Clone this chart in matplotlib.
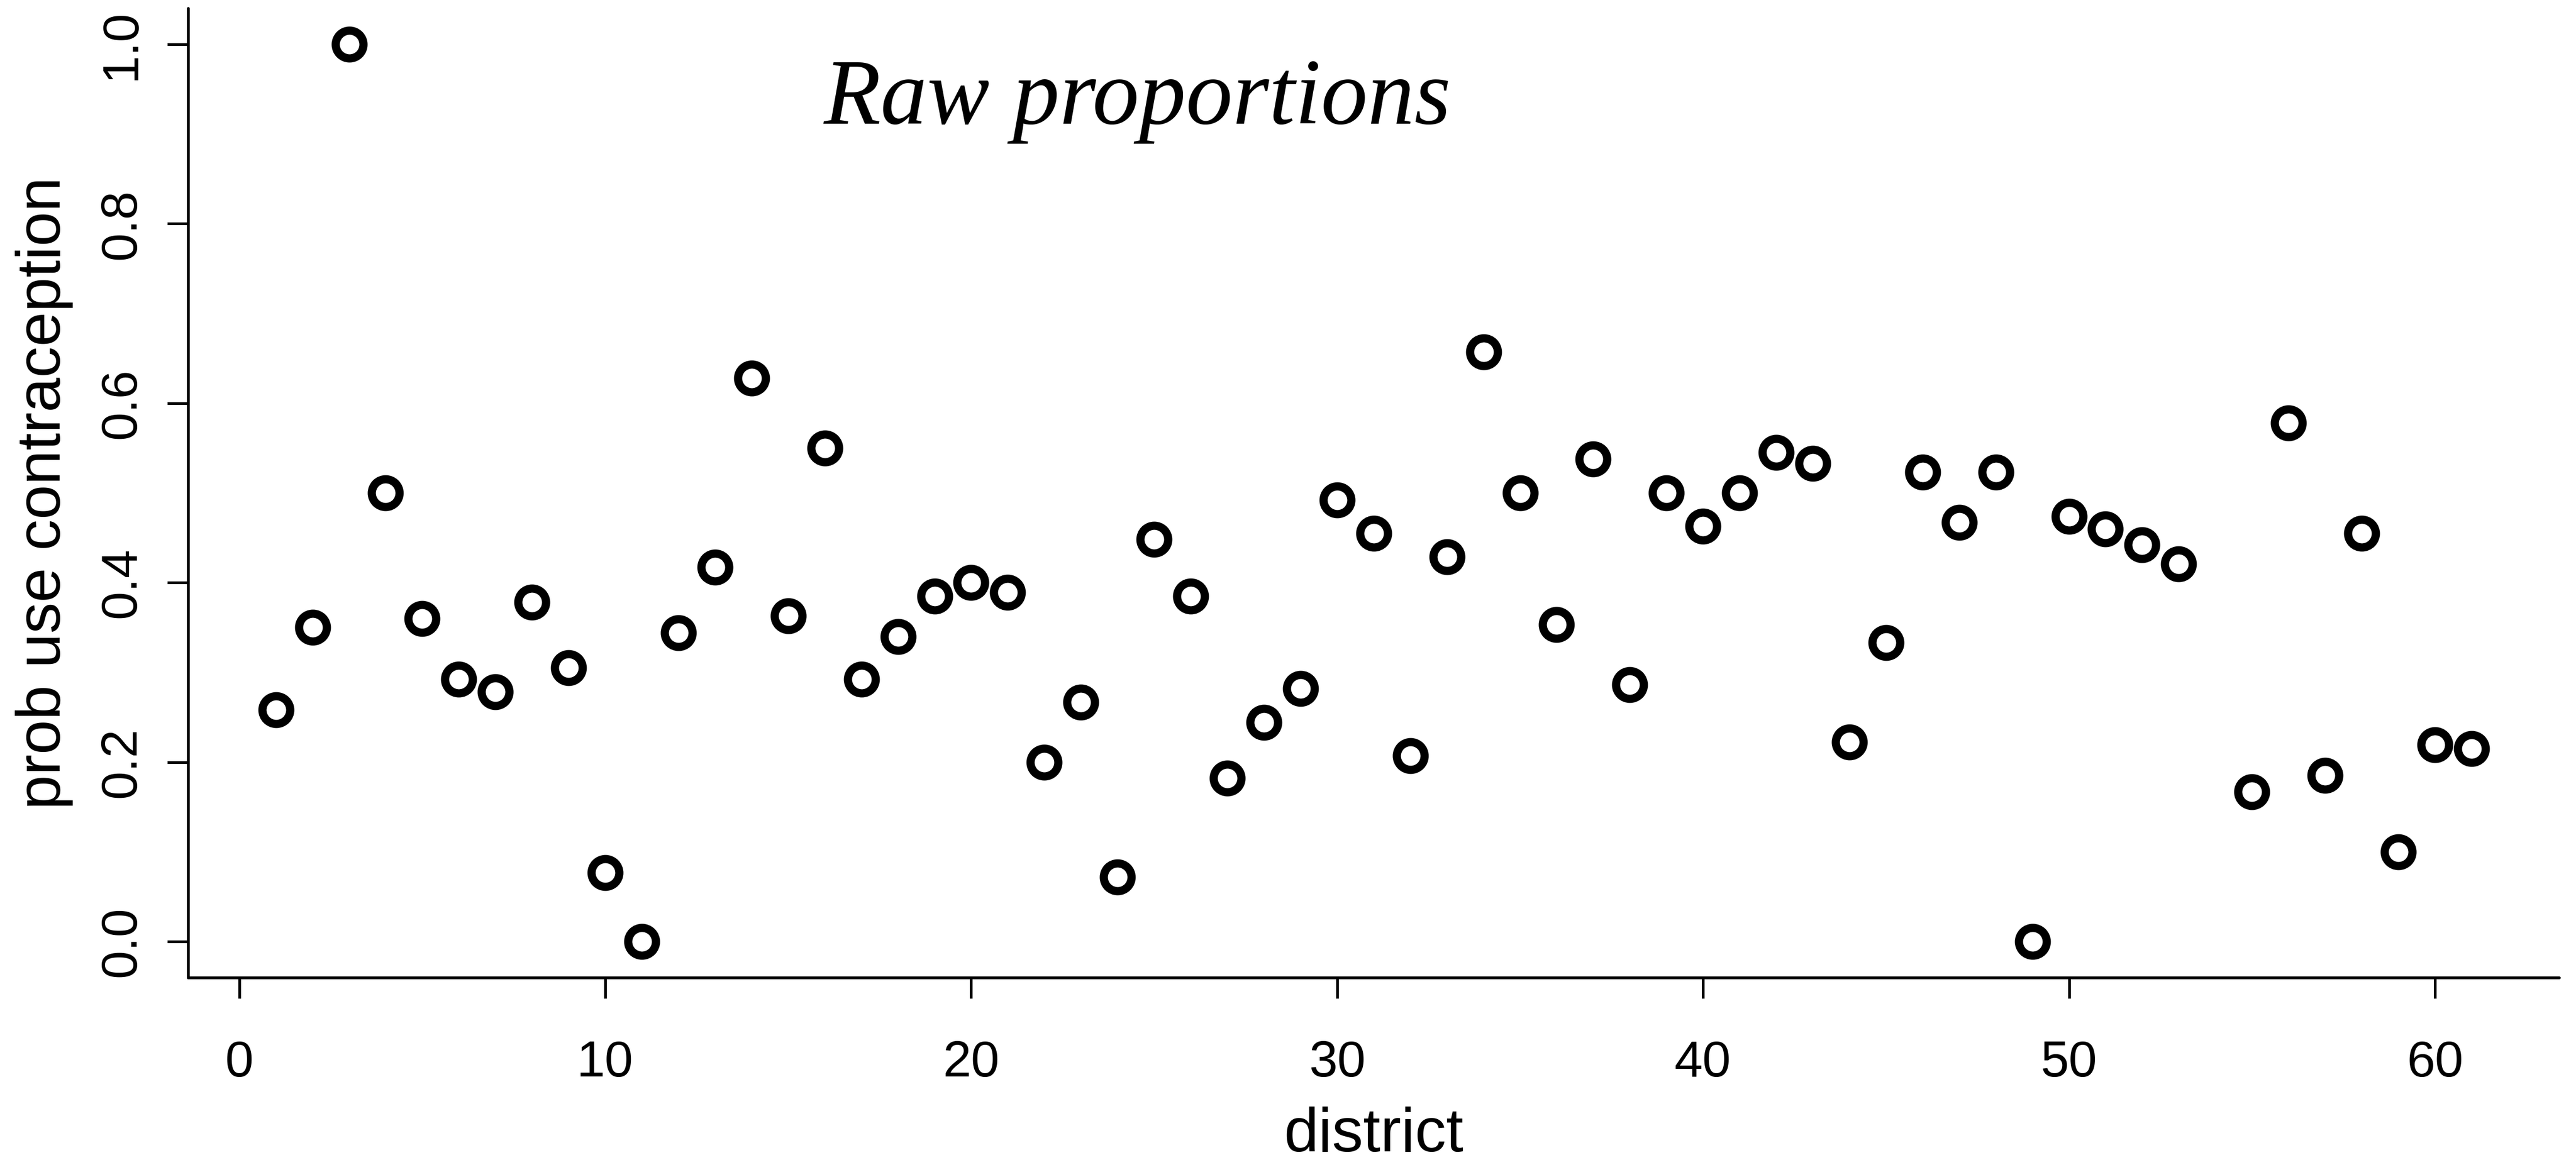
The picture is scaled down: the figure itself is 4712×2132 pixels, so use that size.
import matplotlib
matplotlib.use("Agg")
import matplotlib.pyplot as plt

# ---- data ----
district = [1, 2, 3, 4, 5, 6, 7, 8, 9, 10, 11, 12, 13, 14, 15, 16, 17, 18, 19, 20,
            21, 22, 23, 24, 25, 26, 27, 28, 29, 30, 31, 32, 33, 34, 35, 36, 37, 38, 39, 40,
            41, 42, 43, 44, 45, 46, 47, 48, 49, 50, 51, 52, 53, 55, 56, 57, 58, 59, 60, 61]
prop_use = [0.258, 0.350, 1.000, 0.500, 0.360, 0.292, 0.278, 0.378, 0.305, 0.077,
            0.000, 0.344, 0.417, 0.628, 0.363, 0.550, 0.292, 0.340, 0.385, 0.400,
            0.389, 0.200, 0.267, 0.072, 0.448, 0.385, 0.182, 0.244, 0.282, 0.492,
            0.455, 0.207, 0.429, 0.657, 0.500, 0.353, 0.538, 0.286, 0.500, 0.463,
            0.500, 0.545, 0.533, 0.222, 0.333, 0.523, 0.467, 0.523, 0.000, 0.474,
            0.460, 0.442, 0.421, 0.167, 0.578, 0.185, 0.455, 0.100, 0.219, 0.215]
x_ticks = [0, 10, 20, 30, 40, 50, 60]
y_ticks = [0.0, 0.2, 0.4, 0.6, 0.8, 1.0]
y_tick_labels = ["0.0", "0.2", "0.4", "0.6", "0.8", "1.0"]

W, H, DPI = 4712, 2132, 300
fig = plt.figure(figsize=((W + 0.5) / DPI, (H + 0.5) / DPI), dpi=DPI)
ax = fig.add_axes([344 / W, 1 - 1788.7 / H, (4681 - 344) / W, (1788.7 - 15.8) / H])

ax.plot(district, prop_use, linestyle="none", marker="o", markersize=12.2,
        markerfacecolor="white", markeredgecolor="black", markeredgewidth=3.6,
        clip_on=False)

ax.set_xlim(-1.4, 63.4)
ax.set_ylim(-0.04, 1.04)

for s in ["top", "right"]:
    ax.spines[s].set_visible(False)
for s in ["left", "bottom"]:
    ax.spines[s].set_linewidth(1.25)
    ax.spines[s].set_capstyle("round")

tick_font = dict(family=["Liberation Sans", "DejaVu Sans"], size=22.4)
ax.set_xticks(x_ticks)
ax.set_xticklabels([str(t) for t in x_ticks], **tick_font)
ax.set_yticks(y_ticks)
ax.set_yticklabels(y_tick_labels, rotation=90, va="center", **tick_font)
ax.tick_params(axis="x", direction="out", length=9.1, width=1.2, pad=18.2)
ax.tick_params(axis="y", direction="out", length=9.1, width=1.2, pad=9.6)
for t in ax.xaxis.get_ticklines() + ax.yaxis.get_ticklines():
    t.set_solid_capstyle("round")

label_font = dict(family=["Liberation Sans", "DejaVu Sans"], size=27.3)
ax.set_xlabel("district", **label_font)
ax.xaxis.label.set_verticalalignment("baseline")
ax.xaxis.set_label_coords(0.5, -0.1795)
ax.set_ylabel("prob use contraception", **label_font)
ax.yaxis.label.set_verticalalignment("baseline")
ax.yaxis.set_label_coords(-0.05395, 0.5)

ax.text(0.4005, 0.8817, "Raw proportions", transform=ax.transAxes,
        ha="center", va="baseline", fontsize=41, style="italic",
        family=["Liberation Serif", "DejaVu Serif"])

fig.savefig("out.png", dpi=DPI, facecolor="white")
